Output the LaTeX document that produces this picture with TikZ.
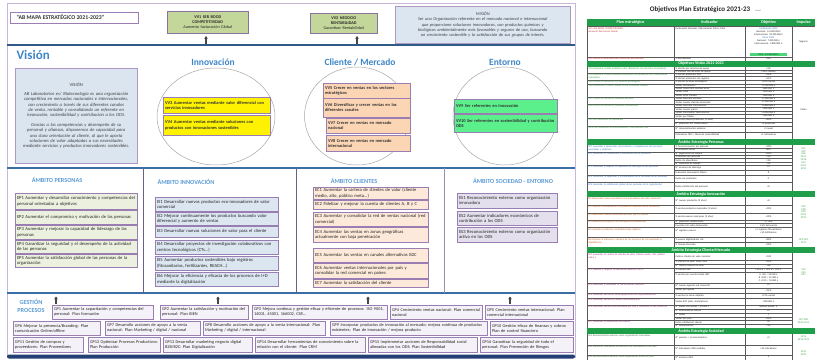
\documentclass[tikz,border=0pt]{standalone}
\usepackage{fontspec}
\setmainfont{Carlito}
\usetikzlibrary{shapes.geometric,arrows.meta}
\hyphenpenalty=10000
\exhyphenpenalty=10000
\definecolor{hblue}{HTML}{3F86C8}
\definecolor{lblue}{HTML}{5B9BD5}
\definecolor{lineblue}{HTML}{3A6EA5}
\definecolor{topblue}{HTML}{2F5B86}
\definecolor{darkblue}{HTML}{243F73}
\definecolor{framec}{HTML}{C9B8D8}
\definecolor{pbord}{HTML}{9A7DB3}
\definecolor{sepc}{HTML}{6E5E8C}
\definecolor{oliveb}{HTML}{C4D79B}
\definecolor{misbg}{HTML}{DCE6F1}
\definecolor{visbg}{HTML}{DAE5F0}
\definecolor{peach}{HTML}{FCD5B4}
\definecolor{mint}{HTML}{5CF08C}
\definecolor{perbg}{HTML}{EBF1DE}
\definecolor{innbg}{HTML}{DCE6F1}
\definecolor{clibg}{HTML}{FDE9D9}
\definecolor{socbg}{HTML}{E4DFEC}
\definecolor{gesbg}{HTML}{F5F1F8}
\definecolor{tgreen}{HTML}{1F9E4A}
\definecolor{tred}{HTML}{D03030}
\definecolor{tblue}{HTML}{2E6FC0}
\definecolor{tgr}{HTML}{2E9E3E}
\definecolor{torg}{HTML}{C55A11}
\definecolor{tmag}{HTML}{A0307E}
\definecolor{tsoc}{HTML}{3A6A3A}
\newcommand{\bx}[7]{%
  \pgfmathsetmacro{\mybw}{#5-#3}%
  \pgfmathsetmacro{\mybh}{#6-#4}%
  \pgfmathsetmacro{\mytw}{#5-#3-3.5}%
  \node[#2, anchor=north west, minimum width=\mybw pt, minimum height=\mybh pt, text width=\mytw pt] (#1) at (#3,#4) {#7};}
\newcommand{\tca}[4]{\node[tcell, text=#3, text width=84pt, anchor=north west] (#1) at (588,#2) {#4};}
\newcommand{\tcb}[3]{\node[tcell, text width=68pt, anchor=north west] (#1) at (675,#2) {#3};}
\newcommand{\tcc}[3]{\node[tcell, align=center, text width=44pt, anchor=north] (#1) at (768.5,#2) {#3};}
\newcommand{\tsep}[1]{\draw[tgrid] (587,#1) -- (792,#1);}
\newcommand{\tsub}[1]{\draw[tgrid] (674,#1) -- (792,#1);}
\newcommand{\tsec}[3]{\fill[tgreen] (587,#2) rectangle (815,#2+5.5); \node[tsect] (#1) at (701,#2+2.75) {#3};}
\begin{document}
\begin{tikzpicture}[x=1pt,y=-1pt,
  box/.style={draw=pbord, line width=0.5pt, inner sep=1pt, align=left, font=\fontsize{4.6}{5.3}\selectfont, text=black!85},
  visbox/.style={box, fill=visbg, draw=pbord!80, align=center, font=\fontsize{4.6}{5.4}\selectfont\itshape, text=black!75},
  misbox/.style={box, fill=misbg, draw=pbord!80, align=center, font=\fontsize{4.4}{5.3}\selectfont\itshape, text=black!75},
  topbox/.style={box, fill=oliveb, draw=pbord!90!black, align=center, font=\fontsize{4.2}{5}\selectfont, text=black!85},
  vbox/.style={box, font=\fontsize{4.4}{5.3}\selectfont\bfseries, text=black!80},
  ybox/.style={vbox, fill=yellow},
  obox/.style={vbox, fill=peach},
  gbox/.style={vbox, fill=mint},
  pbox/.style={box, fill=perbg},
  ibox/.style={box, fill=innbg},
  cbox/.style={box, fill=clibg},
  sbox/.style={box, fill=socbg},
  gpbox/.style={box, fill=gesbg, font=\fontsize{4.3}{5}\selectfont},
  sect/.style={font=\fontsize{9.5}{10}\selectfont\bfseries, text=hblue},
  amb/.style={font=\fontsize{6.2}{7}\selectfont\bfseries, text=lblue},
  ell/.style={ellipse, draw=gray!70, line width=0.5pt, fill=white, inner sep=0pt},
  uparrow/.style={-{Triangle[length=2.6pt,width=3.4pt]}, line width=1.1pt, draw=gray!55!black},
  tcell/.style={inner sep=0.3pt, align=left, font=\fontsize{2.5}{2.9}\selectfont, text=black!85},
  tgrid/.style={draw=black!65, line width=0.25pt},
  tsect/.style={font=\fontsize{4}{4.2}\selectfont\bfseries, text=white},
  thead/.style={font=\fontsize{4.2}{4.4}\selectfont\bfseries, text=white},
  tcode/.style={tcell, align=center, text=tgr, anchor=north}]
\useasboundingbox (0,0) rectangle (815,360);
\fill[white] (0,0) rectangle (815,360);

% ---------- panel frame and bands ----------
\draw[framec, line width=0.6pt] (7,3) rectangle (575,357);
\draw[topblue, line width=1.3pt] (7,45) -- (575,45);
\draw[lineblue, line width=1.2pt] (7,168) -- (575,168);
\draw[lineblue, line width=1.3pt] (7,293) -- (575,293);
\fill[darkblue, rounded corners=2pt] (7,354.5) rectangle (575,358.5);

% ---------- top band ----------
\bx{title}{box}{10}{12}{138}{23}{}
\node[font=\fontsize{5.8}{6}\selectfont\bfseries, text=black!80, anchor=west] (titletxt) at (13,17.5) {“AB MAPA ESTRATÉGICO 2021-2023”};
\bx{vv1}{topbox}{167}{11}{248}{33}{{\bfseries VV1 SER BOOD}\\{\bfseries COMPETITIVIDAD}\\Aumento facturación Global}
\bx{vv2}{topbox}{310}{13}{377}{33}{{\bfseries VV2 NEGOCIO}\\{\bfseries RENTABILIDAD}\\Garantizar Rentabilidad}
\bx{mis}{misbox}{395}{6}{570}{43}{MISIÓN\\Ser una Organización referente en el mercado nacional e internacional que proporcione soluciones innovadoras, con productos químicos y biológicos ambientalmente más favorables y seguros de uso, buscando un crecimiento sostenible y la satisfacción de sus grupos de interés.}
\coordinate (a1s) at (206,43.5); \coordinate (a1e) at (206,36);
\coordinate (a2s) at (357,43.5); \coordinate (a2e) at (357,36);
\draw[uparrow] (a1s) -- (a1e);
\draw[uparrow] (a2s) -- (a2e);

% ---------- vision band ----------
\node[font=\fontsize{13}{14}\selectfont\bfseries, text=hblue, anchor=west] (vtitle) at (13,55) {Visión};
\bx{visbx}{visbox}{15}{68}{137}{163}{{\upshape VISIÓN}\\[3pt]AB Laboratorios es/ Biotecnología es una organización competitiva en mercados nacionales e internacionales, con crecimiento a través de sus diferentes canales de venta, rentable y consolidando un referente en innovación, sostenibilidad y contribución a los ODS.\\[4pt]Gracias a las competencias y desempeño de su personal y alianzas, disponemos de capacidad para una clara orientación al cliente, al que le aporta soluciones de valor adaptadas a sus necesidades mediante servicios y productos innovadores sostenibles.}

\node[sect] (hinn) at (213,62) {Innovación};
\node[sect] (hcli) at (360,62) {Cliente / Mercado};
\node[sect] (hent) at (505,62) {Entorno};
\node[ell, minimum width=118pt, minimum height=97pt] (e1) at (216,116.5) {};
\node[ell, minimum width=105pt, minimum height=98pt] (e2) at (357,116) {};
\node[ell, minimum width=104pt, minimum height=98pt] (e3) at (505,116) {};

\bx{vv3}{ybox}{163}{97}{270}{113}{VV3 Aumentar ventas mediante valor diferencial con servicios innovadores}
\bx{vv4}{ybox}{163}{115}{270}{135}{VV4 Aumentar ventas mediante soluciones con productos con innovaciones sostenibles}
\bx{vv5}{obox}{323}{83}{410}{98}{VV5 Crecer en ventas en los sectores estratégicos}
\bx{vv6}{obox}{323}{98}{410}{117}{VV6 Diversificar y crecer ventas en los diferentes canales}
\bx{vv7}{obox}{326}{118}{410}{133}{VV7 Crecer en ventas en mercado nacional}
\bx{vv8}{obox}{326}{135}{410}{151}{VV8 Crecer en ventas en mercado internacional}
\bx{vv9}{gbox}{454}{99}{557}{113}{VV9 Ser referentes en Innovación}
\bx{vv10}{gbox}{454}{114}{557}{132}{VV10 Ser referentes en sostenibilidad y contribución ODS}

% ---------- ambitos ----------
\draw[sepc, line width=0.7pt] (143,168) -- (143,293);
\draw[sepc, line width=0.7pt] (296,168) -- (296,293);
\draw[sepc!70, line width=0.6pt] (444,168) -- (444,293);
\node[amb] (hper) at (57,180) {ÁMBITO PERSONAS};
\node[amb] (hinn2) at (186,182) {ÁMBITO INNOVACIÓN};
\node[amb] (hcli2) at (354,181) {ÁMBITO CLIENTES};
\node[amb] (hsoc) at (513,181) {ÁMBITO SOCIEDAD - ENTORNO};

\bx{ep1}{pbox}{15}{193}{137}{209}{EP1 Aumentar y desarrollar conocimiento y competencias del personal orientadas a objetivos}
\bx{ep2}{pbox}{15}{210}{137}{224}{EP2 Aumentar el compromiso y motivación de las personas}
\bx{ep3}{pbox}{15}{225}{137}{239}{EP3 Aumentar y mejorar la capacidad de liderazgo de las personas}
\bx{ep4}{pbox}{15}{240}{137}{253}{EP4 Garantizar la seguridad y el desempeño de la actividad de las personas}
\bx{ep5}{pbox}{15}{254}{137}{267}{EP5 Aumentar la satisfacción global de las personas de la organización}

\bx{ei1}{ibox}{155}{197}{278}{211}{EI1 Desarrollar nuevos productos eco-innovadores de valor comercial}
\bx{ei2}{ibox}{155}{212}{278}{225}{EI2 Mejorar continuamente los productos buscando valor diferencial y aumento de ventas}
\bx{ei3}{ibox}{155}{226}{278}{237}{EI3 Desarrollar nuevas soluciones de valor para el cliente}
\bx{ei4}{ibox}{155}{240}{278}{254}{EI4 Desarrollar proyectos de investigación colaborativos con centros tecnológicos (CTs...)}
\bx{ei5}{ibox}{155}{256}{278}{270}{EI5 Aumentar productos sostenibles bajo registros (fitosanitarios, fertilizantes, REACH...)}
\bx{ei6}{ibox}{155}{272}{278}{286}{EI6 Mejorar la eficiencia y eficacia de los procesos de I+D mediante la digitalización}

\bx{ec1}{cbox}{313}{187}{428}{199}{EC1 Aumentar la cartera de clientes de valor (cliente medio, alto, público meta...)}
\bx{ec2}{cbox}{313}{200}{428}{209}{EC2 Fidelizar y mejorar la cuenta de clientes A, B y C}
\bx{ec3}{cbox}{313}{212}{428}{226}{EC3 Aumentar y consolidar la red de ventas nacional (red comercial)}
\bx{ec4}{cbox}{313}{227}{428}{242}{EC4 Aumentar las ventas en zonas geográficas actualmente con baja penetración}
\bx{ec5}{cbox}{313}{248}{428}{262}{EC5 Aumentar las ventas en canales alternativos B2C}
\bx{ec6}{cbox}{313}{263}{428}{278}{EC6 Aumentar ventas internacionales por país y consolidar la red comercial en países}
\bx{ec7}{cbox}{313}{279}{428}{287}{EC7 Aumentar la satisfacción del cliente}

\bx{es1}{sbox}{457}{193}{557}{208}{ES1 Reconocimiento externo como organización innovadora}
\bx{es2}{sbox}{457}{211}{557}{225}{ES2 Aumentar indicadores económicos de contribución a los ODS}
\bx{es3}{sbox}{457}{227}{557}{242}{ES3 Reconocimiento externo como organización activa en los ODS}

% ---------- gestion procesos ----------
\node[amb, align=center, font=\fontsize{6.2}{8.5}\selectfont\bfseries] (hges) at (31,306) {GESTIÓN\\PROCESOS};
\coordinate (g1s) at (56,303.5); \coordinate (g1e) at (56,296.5);
\coordinate (g2s) at (218,303.5); \coordinate (g2e) at (218,296.5);
\coordinate (g3s) at (368,303.5); \coordinate (g3e) at (368,296.5);
\coordinate (g4s) at (510,303.5); \coordinate (g4e) at (510,296.5);
\draw[uparrow] (g1s) -- (g1e);
\draw[uparrow] (g2s) -- (g2e);
\draw[uparrow] (g3s) -- (g3e);
\draw[uparrow] (g4s) -- (g4e);

\bx{gp1}{gpbox}{52}{305}{153}{319}{GP1 Aumentar la capacitación y competencias del personal: Plan formación}
\bx{gp2}{gpbox}{160}{305}{248}{319}{GP2 Aumentar la satisfacción y motivación del personal: Plan BIEN}
\bx{gp3}{gpbox}{252}{305}{387}{319}{GP3 Mejora continua y gestión eficaz y eficiente de procesos: ISO 9001, 14001, 45001, 166002, CSR...}
\bx{gp4}{gpbox}{390}{305}{482}{319}{GP4 Crecimiento ventas nacional: Plan comercial nacional}
\bx{gp5}{gpbox}{485}{305}{573}{319}{GP5 Crecimiento ventas internacional: Plan comercial internacional}
\bx{gp6}{gpbox}{13}{321}{100}{335}{GP6 Mejorar la presencia/Branding: Plan comunicación Online/offline}
\bx{gp7}{gpbox}{105}{321}{200}{335}{GP7 Desarrollo acciones de apoyo a la venta nacional: Plan Marketing / digital / nacional}
\bx{gp8}{gpbox}{203}{321}{325}{335}{GP8 Desarrollo acciones de apoyo a la venta internacional: Plan Marketing / digital / internacional}
\bx{gp9}{gpbox}{330}{321}{487}{335}{GP9 Incorporar productos de innovación al mercado; mejora continua de productos existentes: Plan de innovación / mejora producto}
\bx{gp10}{gpbox}{490}{321}{573}{335}{GP10 Gestión eficaz de finanzas y cobros: Plan de control financiero}
\bx{gp11}{gpbox}{13}{337}{83}{352}{GP11 Gestión de compras y proveedores: Plan Proveedores}
\bx{gp12}{gpbox}{88}{337}{160}{352}{GP12 Optimizar Procesos Productivos: Plan Producción}
\bx{gp13}{gpbox}{163}{337}{252}{352}{GP13 Desarrollar marketing negocio digital B2B/B2C: Plan Digitalización}
\bx{gp14}{gpbox}{255}{337}{365}{352}{GP14 Desarrollar herramientas de conocimiento sobre la relación con el cliente: Plan CRM}
\bx{gp15}{gpbox}{368}{337}{477}{352}{GP15 Implementar acciones de Responsabilidad social alineadas con los ODS: Plan Sostenibilidad}
\bx{gp16}{gpbox}{480}{337}{573}{352}{GP16 Garantizar la seguridad de todo el personal: Plan Prevención de Riesgos}

% ---------- table ----------
\node[font=\fontsize{7}{8}\selectfont\bfseries, text=black!85] (ttl) at (700,10) {Objetivos Plan Estratégico 2021-23};
\node[font=\fontsize{2.4}{3}\selectfont, text=black!60, anchor=west, inner sep=0.5pt] (ttlu) at ([xshift=1pt,yshift=-1pt]ttl.east) {euros};
\fill[tgreen] (587,19) rectangle (815,26);
\node[thead] (h1) at (630.5,22.5) {Plan estratégico};
\node[thead] (h2) at (709.5,22.5) {Indicador};
\node[thead] (h3) at (768.5,22.5) {Objetivo};
\node[thead] (h4) at (803.5,22.5) {Impulso};
\foreach \cx in {587,674,745,792,814.8} {\draw[tgrid] (\cx,26) -- (\cx,360);}
\draw[tgrid] (587,26) -- (815,26);

% VV1 / VV2
\tca{r1a}{27}{tred}{VV1 SER BOOD COMPETITIVIDAD\\Aumento facturación Global}
\tcb{r1b}{27}{Facturación Nacional, Internacional, Otros, Total}
\tcc{r1c}{27.5}{\textcolor{tblue}{Facturación 2023}\\Nacional: 14.200.000 €\\Internacional: 10.300.000 €\\\textcolor{tblue}{Otros 2023}\\Nacional: 7.200.000 €\\Internacional: 1.800.000 €}
\fill[mint!70!tgreen] (750,52.5) rectangle (787,56.3);
\tcc{r1d}{53}{Total: 33.500.000 €}
\node[tcell] (i1) at (803.5,42) {Negocio};
\tsep{57}
\tca{r2a}{57.3}{tred}{VV2 NEGOCIO RENTABILIDAD Garantizar Rentabilidad}
\tcb{r2b}{57.3}{\% Rentabilidad}
\tcc{r2c}{57.3}{>8\%}

\tsec{s0}{61}{Objetivos Visión 2021-2023}
\tca{v3a}{67}{tgr}{VV3 Aumentar ventas mediante valor diferencial con servicios innovadores}
\tcb{v3b}{67}{\% Ventas por servicios de apoyo}\tcc{v3c}{67}{+5\%}
\tsub{70}\tcb{v3d}{70.3}{\% Clientes con servicios de apoyo}\tcc{v3e}{70.3}{+10\% clientes}
\tsep{73}
\tca{v4a}{73.3}{tgr}{VV4 Aumentar ventas mediante soluciones con productos con innovaciones sostenibles}
\tcb{v4b}{73.3}{\% Ventas productos ECO}\tcc{v4c}{73.3}{+10\%}
\tsub{76.5}\tcb{v4d}{76.8}{\% Ventas productos con registro}\tcc{v4e}{76.8}{+15\%}
\tsep{80}
\tca{v5a}{80.6}{tgr}{VV5 Crecer en ventas en los sectores estratégicos}
\tcb{v5b}{80.6}{\% Ventas sectores estratégicos}\tcc{v5c}{80.6}{+20\% ventas}
\tsep{84}
\tca{v6a}{84.3}{tgr}{VV6 Diversificar y crecer ventas en los diferentes canales}
\tcb{v6b}{84.3}{Ventas Distribución}\tcc{v6c}{84.3}{+1.100.000 €}
\tsub{87.25}\tcb{v6d}{87.5}{Ventas nuevo RED multisectorial}\tcc{v6e}{87.5}{+800.000 €}
\tsub{90.5}\tcb{v6f}{90.8}{Ventas OEM}\tcc{v6g}{90.8}{+900.000 €}
\tsub{93.75}\tcb{v6h}{94}{Ventas otros canales}\tcc{v6i}{94}{+300.000 €}
\tsep{97}
\tca{v7a}{97.3}{tgr}{VV7 Crecer en ventas en mercado nacional}
\tcb{v7b}{97.3}{Ventas mercado nacional}\tcc{v7c}{97.3}{+7.200.000 €}
\tsub{100.5}\tcb{v7d}{100.8}{Ventas nuevos clientes nacionales}\tcc{v7e}{100.8}{+1.200.000 €}
\tsep{104}
\tca{v8a}{104.3}{tgr}{VV8 Crecer en ventas en mercado internacional}
\tcb{v8b}{104.3}{Ventas mercado internacional}\tcc{v8c}{104.3}{+1.800.000 €}
\tsub{107.5}\tcb{v8d}{107.8}{Ventas nuevos países}\tcc{v8e}{107.8}{+500.000 €}
\tsub{111}\tcb{v8f}{111.3}{Ventas distribuidor internacional}\tcc{v8g}{111.3}{+1.000.000 €}
\tsub{114.5}\tcb{v8h}{114.8}{Ventas por filiales}\tcc{v8i}{114.8}{+300.000 €}
\tsep{118}
\tca{v9a}{118.3}{tgr}{VV9 Ser referentes en innovación}
\tcb{v9b}{118.5}{\% ventas nuevos productos (3 años)}\tcc{v9c}{118.5}{+20\%}
\tsub{122}\tcb{v9d}{122.5}{Nº proyectos I+D colaborativos}\tcc{v9e}{122.5}{+5 proyectos}
\tsep{126}
\tca{v10a}{126.5}{tgr}{VV10 Ser referentes en sostenibilidad y contribución ODS}
\tcb{v10b}{127}{Nº reconocimientos externos}\tcc{v10c}{127}{+3 anual}
\tsub{132.5}\tcb{v10d}{133.5}{Indicadores ODS / Memoria sostenibilidad}\tcc{v10e}{133.5}{+5 indicadores}
\node[tcell] (i2) at (803.5,110) {Visión};

\tsec{s1}{139}{Ámbito Estrategia Personas}
\tca{p1a}{145}{tblue}{EP1 Aumentar y desarrollar conocimiento y competencias del personal orientadas a objetivos}
\tcb{p1b}{144.8}{\% horas formación por persona}\tcc{p1c}{144.8}{+10\%}
\tsub{148.25}\tcb{p1d}{148.6}{\% formación eficaz}\tcc{p1e}{148.6}{80\%}
\tsep{152}
\tca{p2a}{152.5}{tblue}{EP2 Aumentar el compromiso y motivación de las personas}
\tcb{p2b}{152.3}{Nº sugerencias de mejora}\tcc{p2c}{152.3}{+20\%}
\tsub{155.25}\tcb{p2d}{155.6}{\% rotación del personal}\tcc{p2e}{155.6}{<5\%}
\tsub{158.5}\tcb{p2f}{158.8}{Índice de absentismo}\tcc{p2g}{158.8}{<3\%}
\tsub{161.75}\tcb{p2h}{162}{Nº reuniones de equipo}\tcc{p2i}{162}{+10}
\tsep{165}
\tca{p3a}{165.5}{tblue}{EP3 Aumentar y mejorar la capacidad de liderazgo de las personas}
\tcb{p3b}{165.8}{Nº acciones de liderazgo}\tcc{p3c}{165.8}{+5}
\tsub{170}\tcb{p3d}{170.8}{Evaluación desempeño líderes}\tcc{p3e}{170.8}{8}
\tsep{175}
\tca{p4a}{175.5}{tblue}{EP4 Garantizar la seguridad y el desempeño de la actividad de las personas}
\tcb{p4b}{177}{Índice de accidentes}\tcc{p4c}{177}{0}
\tsep{182}
\tca{p5a}{183}{tblue}{EP5 Aumentar la satisfacción global de las personas de la organización}
\tcb{p5b}{185}{Índice satisfacción del personal}\tcc{p5c}{185}{>8}
\node[tcode] (i3) at (803.5,147) {GP1\\GP2\\GP6\\GP11\\GP16\\GP3\\GP12\\GP14};

\tsec{s2}{191}{Ámbito Estrategia Innovación}
\tca{n1a}{197.5}{torg}{EI1 Desarrollar nuevos productos eco-innovadores de valor comercial}
\tcb{n1b}{199}{Nº nuevos productos (3 años)}\tcc{n1c}{199}{+8}
\tsep{205}
\tca{n2a}{205.5}{torg}{EI2 Mejorar continuamente los productos buscando valor diferencial}
\tcb{n2b}{207}{\% ventas productos mejorados (3 años)}\tcc{n2c}{207}{+10\%}
\tsep{213}
\tca{n3a}{213.5}{torg}{EI3 Desarrollar nuevas soluciones de valor para el cliente}
\tcb{n3b}{215}{\% ventas nuevas soluciones (3 años)}\tcc{n3c}{215}{+10\%}
\tsep{220}
\tca{n4a}{220.5}{torg}{EI4 Desarrollar proyectos de investigación colaborativos}
\tcb{n4b}{220.3}{Nº proyectos colaborativos}\tcc{n4c}{220.3}{3 / año}
\tsub{223.5}\tcb{n4d}{223.8}{Inversión I+D sobre facturación}\tcc{n4e}{223.8}{4-5\% facturación}
\tsep{227}
\tca{n5a}{228}{torg}{EI5 Aumentar productos sostenibles bajo registros}
\tcb{n5b}{229}{Nº registros nuevos}\tcc{n5c}{228.5}{+2 registros fitosanitarios\\+10 fertilizantes}
\tsep{237}
\tca{n6a}{238}{torg}{EI6 Mejorar la eficiencia y eficacia de los procesos de I+D mediante la digitalización}
\tcb{n6b}{238}{\% avance digitalización I+D}\tcc{n6c}{238}{+20\%}
\tsub{242}\tcb{n6d}{243}{\% tiempo ahorrado}\tcc{n6e}{243}{+10\%}
\node[tcode] (i4) at (803.5,205) {GP3\\GP8\\GP9\\GP12\\GP13};
\node[tcode] (i5) at (803.5,238) {GP9 GP3\\GP13};

\tsec{s3}{247}{Ámbito Estrategia Cliente/Mercado}
\tca{c1a}{253.5}{tmag}{EC1 Aumentar la cartera de clientes de valor (cliente medio, alto, público meta...)}
\tcb{c1b}{255}{Cartera clientes de valor nacional}\tcc{c1c}{255}{+100}
\tsub{260}\tcb{c1d}{260.5}{\% clientes de valor sobre total}\tcc{c1e}{260.5}{+10\%}
\tsub{264}\tcb{c1f}{264.5}{Nº clientes nuevos de valor}\tcc{c1g}{264.5}{+50}
\tsep{268}
\tca{c2a}{268.5}{tmag}{EC2 Fidelizar y mejorar la cuenta de clientes A, B y C}
\tcb{c2b}{268.5}{\% clientes ABC}\tcc{c2c}{268.5}{+10\% A / +5\% B / +2\% C}
\tsub{272}\tcb{c2d}{273.5}{\% ventas por cuenta cliente ABC}\tcc{c2e}{273}{A +5\% / 50.000 €\\B +10\% / 25.000 €\\C +15\% / 10.000 €}
\tsep{283}
\tca{c3a}{283.5}{tmag}{EC3 Aumentar y consolidar la red de ventas nacional}
\tcb{c3b}{283.8}{Nº nuevos agentes red comercial}\tcc{c3c}{283.8}{+5}
\tsub{288}\tcb{c3d}{288.8}{Ventas por agente}\tcc{c3e}{288.8}{+15\%}
\tsep{293}
\tca{c4a}{293.5}{tmag}{EC4 Aumentar ventas en zonas geográficas con baja penetración}
\tcb{c4b}{294}{\% ventas en zonas objetivo}\tcc{c4c}{294}{+15\% ventas}
\tsep{298}
\tca{c5a}{298.5}{tmag}{EC5 Aumentar ventas en canales alternativos B2C}
\tcb{c5b}{300}{Ventas B2C (web, marketplace)}\tcc{c5c}{300}{+200.000 €}
\tsep{305}
\tca{c6a}{305.5}{tmag}{EC6 Aumentar ventas internacionales por país y consolidar la red comercial}
\tcb{c6b}{305.5}{Nº países con ventas > 50.000 €}\tcc{c6c}{305.5}{Nuevos países: 4}
\tsub{309}\tcb{c6d}{309.5}{Nº distribuidores nuevos}\tcc{c6e}{309.5}{+3}
\tsub{313}\tcb{c6f}{313.5}{Nº filiales}\tcc{c6g}{313.5}{1}
\tsub{317}\tcb{c6h}{317.3}{Ventas por país}\tcc{c6i}{317.3}{+10\%}
\tsep{320}
\tca{c7a}{320.5}{tmag}{EC7 Aumentar la satisfacción del cliente}
\tcb{c7b}{320.5}{Índice satisfacción cliente}\tcc{c7c}{320.5}{>8}
\tsub{324}\tcb{c7d}{324.5}{Nº reclamaciones}\tcc{c7e}{324.5}{<10}
\node[tcode] (i6) at (803.5,268) {GP4\\GP5\\GP7};
\node[tcode] (i7) at (803.5,318) {GP7 GP8\\GP14 GP15};

\tsec{s4}{328}{Ámbito Estrategia Sociedad}
\tca{o1a}{334.5}{tsoc}{ES1 Reconocimiento externo como organización innovadora}
\tcb{o1b}{336}{Nº premios / reconocimientos}\tcc{o1c}{336}{+2}
\tsep{345}
\tca{o2a}{345.5}{tsoc}{ES2 Aumentar indicadores económicos de contribución a los ODS}
\tcb{o2b}{347}{Nº indicadores ODS medidos}\tcc{o2c}{347}{+10 indicadores}
\tsep{355}
\tca{o3a}{355.5}{tsoc}{ES3 Reconocimiento externo como organización activa en ODS}
\tcb{o3b}{355.8}{Nº acciones ODS}\tcc{o3c}{355.8}{5}
\node[tcode] (i8) at (803.5,335) {GP15\\GP16 GP13};
\node[tcode] (i9) at (803.5,350) {GP15\\GP10};
\end{tikzpicture}
\end{document}
